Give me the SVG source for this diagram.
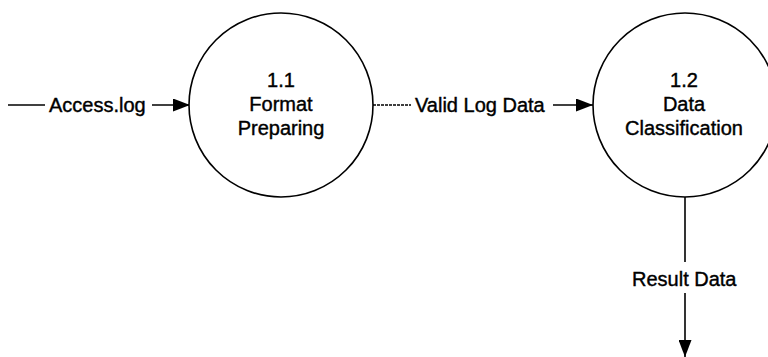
<svg xmlns="http://www.w3.org/2000/svg" width="768" height="357" viewBox="0 0 768 357">
<defs>
<style>
.node{fill:#fff;stroke:#000;stroke-width:1.6}
.t{font-family:"Liberation Sans",Arial,sans-serif;font-size:20px;fill:#000;stroke:#000;stroke-width:0.4;text-anchor:middle}
.l{font-family:"Liberation Sans",Arial,sans-serif;font-size:20px;fill:#000;stroke:#000;stroke-width:0.4}
.c{stroke:#000;stroke-width:1.6;fill:none}
</style>
<marker id="arr" viewBox="0 0 17 13" refX="17" refY="6.5" markerWidth="17" markerHeight="13" markerUnits="userSpaceOnUse" orient="auto">
<path d="M0,0 L17,6.5 L0,13 Z" fill="#000"/>
</marker>
</defs>
<rect width="768" height="357" fill="#fff"/>
<g id="connectors">
<line class="c" x1="8" y1="105" x2="45" y2="105"/>
<line class="c" x1="152" y1="105" x2="190" y2="105" marker-end="url(#arr)"/>
<text class="l" x="49" y="112">Access.log</text>
<line class="c" x1="373" y1="105" x2="411" y2="105" stroke-dasharray="3,1"/>
<line class="c" x1="553" y1="105" x2="593" y2="105" marker-end="url(#arr)"/>
<text class="l" x="415" y="112">Valid Log Data</text>
<line class="c" x1="685" y1="197" x2="685" y2="262"/>
<line class="c" x1="685" y1="293" x2="685" y2="357" marker-end="url(#arr)"/>
<text class="l" x="632" y="286">Result Data</text>
</g>
<g id="node-1-1">
<circle class="node" cx="281" cy="105" r="92"/>
<text class="t" x="281" y="87">1.1</text>
<text class="t" x="281" y="111">Format</text>
<text class="t" x="281" y="135">Preparing</text>
</g>
<g id="node-1-2">
<circle class="node" cx="685" cy="105" r="92"/>
<text class="t" x="684" y="87">1.2</text>
<text class="t" x="684" y="111">Data</text>
<text class="t" x="684" y="135">Classification</text>
</g>
</svg>
